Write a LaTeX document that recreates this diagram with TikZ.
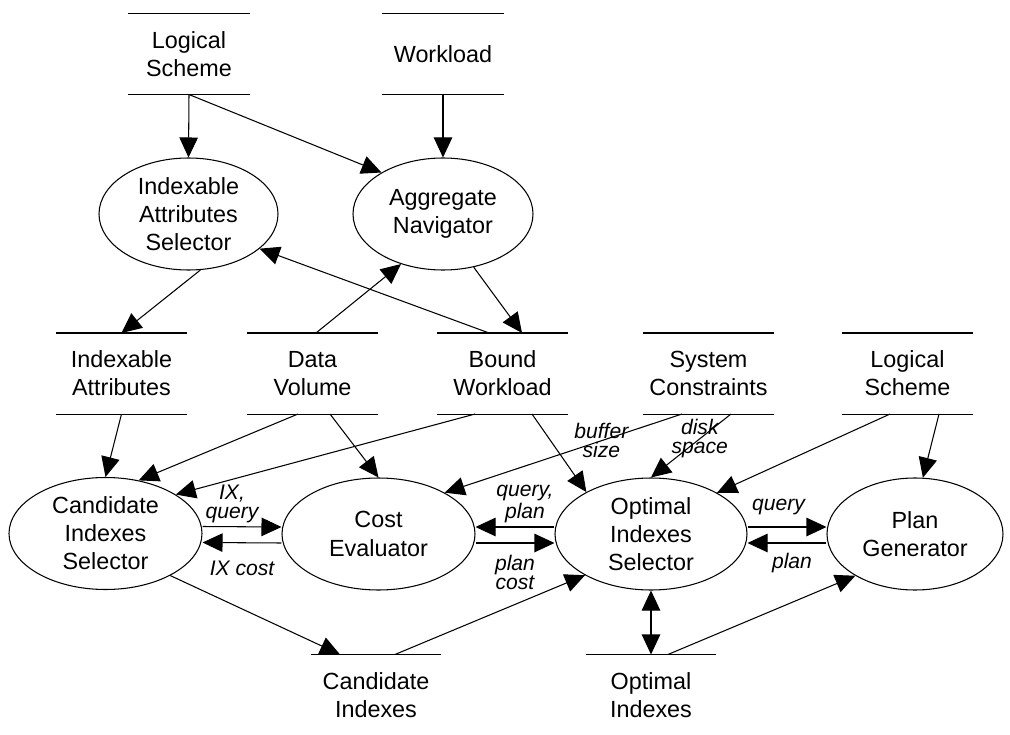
\documentclass[tikz,border=0pt]{standalone}
\usepackage{fontspec}
\setmainfont{Liberation Sans}
\usetikzlibrary{arrows.meta,shapes.geometric}
\tikzset{
  store/.style={minimum width=2.58cm, minimum height=1.6cm, align=center, inner sep=0pt},
  proc/.style={ellipse, draw, minimum height=2.24cm, align=center, inner sep=0pt},
  lbl/.style={font=\fontsize{12}{10.8}\selectfont\itshape, align=center, inner sep=1pt}
}

\begin{document}
\begin{tikzpicture}[line width=0.6pt, >={Triangle[length=0.4cm,width=0.37cm]},
    every node/.style={font=\fontsize{13.3}{16}\selectfont}]
  \useasboundingbox (0,0) rectangle (20.2,14.68);

  \node[store, minimum width=2.42cm] (LS1) at (3.78, 13.6) {Logical\\Scheme};
  \node[store, minimum width=2.40cm] (WL) at (8.86, 13.6) {Workload};
  \node[proc, minimum width=3.58cm] (IAS) at (3.77, 10.4) {Indexable\\Attributes\\Selector};
  \node[proc, minimum width=3.6cm] (AN) at (8.86, 10.4) {Aggregate\\Navigator};

  \node[store] (IA) at (2.43, 7.21) {Indexable\\Attributes};
  \node[store] (DV) at (6.25, 7.21) {Data\\Volume};
  \node[store] (BW) at (10.05, 7.21) {Bound\\Workload};
  \node[store] (SC) at (14.17, 7.21) {System\\Constraints};
  \node[store] (LS2) at (18.15, 7.21) {Logical\\Scheme};

  \node[proc, minimum width=3.86cm] (CIS) at (2.11, 4.01) {Candidate\\Indexes\\Selector};
  \node[proc, minimum width=3.86cm] (CE) at (7.57, 4.0) {Cost\\Evaluator};
  \node[proc, minimum width=3.84cm] (OIS) at (13.02, 4.0) {Optimal\\Indexes\\Selector};
  \node[proc, minimum width=3.52cm] (PG) at (18.3, 4.0) {Plan\\Generator};

  \node[store, minimum width=2.56cm] (CI) at (7.52, 0.78) {Candidate\\Indexes};
  \node[store, minimum width=2.56cm] (OI) at (13.02, 0.78) {Optimal\\Indexes};

  \foreach \s in {LS1,WL,IA,DV,BW,SC,LS2}
    \draw (\s.north west) -- (\s.north east) (\s.south west) -- (\s.south east);
  \foreach \s in {CI,OI}
    \draw (\s.north west) -- (\s.north east);

  \draw[->] (LS1.south) -- (IAS.north);
  \draw[->] (LS1.south) -- (AN.146);
  \draw[->] (WL.south) -- (AN.north);
  \draw[->] (IAS.282) -- (IA.north);
  \draw[->] ([xshift=0.07cm]DV.north) -- (AN.230);
  \draw[->] ([xshift=-0.27cm]BW.north) -- (IAS.334);
  \draw[->] (AN.300) -- ([xshift=0.39cm]BW.north);

  \draw[->] (IA.south) -- (CIS.north);
  \draw[->] ([xshift=-0.29cm]DV.south) -- (CIS.58);
  \draw[->] ([xshift=0.35cm]DV.south) -- (CE.north);
  \draw[->] ([xshift=-0.55cm]BW.south) -- (CIS.29);
  \draw[->] ([xshift=0.59cm]BW.south) -- (OIS.147);
  \draw[->] ([xshift=-0.53cm]SC.south) -- node[lbl, pos=0.34] {buffer\\size} (CE.32);
  \draw[->] ([xshift=0.45cm]SC.south) -- node[lbl, pos=0.39] {disk\\space} (OIS.north);
  \draw[->] ([xshift=-0.35cm]LS2.south) -- (OIS.32);
  \draw[->] ([xshift=0.63cm]LS2.south) -- (PG.82);

  \draw[->] ([yshift=0.14cm]CIS.east) -- node[lbl, above=0.04cm, xshift=-0.2cm] {IX,\\query} ([yshift=0.14cm]CE.west);
  \draw[->] ([yshift=-0.18cm]CE.west) -- node[lbl, below=0.32cm] {IX cost} ([yshift=-0.18cm]CIS.east);
  \draw[->] ([yshift=0.14cm]OIS.west) -- node[lbl, above=0.04cm, xshift=0.2cm] {query,\\plan} ([yshift=0.14cm]CE.east);
  \draw[->] ([yshift=-0.18cm]CE.east) -- node[lbl, below=0.2cm] {plan\\cost} ([yshift=-0.18cm]OIS.west);
  \draw[->] ([yshift=0.14cm]OIS.east) -- node[lbl, above=0.2cm, xshift=-0.17cm] {query} ([yshift=0.14cm]PG.west);
  \draw[->] ([yshift=-0.18cm]PG.west) -- node[lbl, below=0.16cm, xshift=0.1cm] {plan} ([yshift=-0.18cm]OIS.east);

  \draw[->] (CIS.327) -- ([xshift=-0.72cm]CI.north);
  \draw[->] ([xshift=0.38cm]CI.north) -- (OIS.212);
  \draw[<->] (OIS.south) -- (OI.north);
  \draw[->] ([xshift=0.34cm]OI.north) -- (PG.215);
\end{tikzpicture}
\end{document}
